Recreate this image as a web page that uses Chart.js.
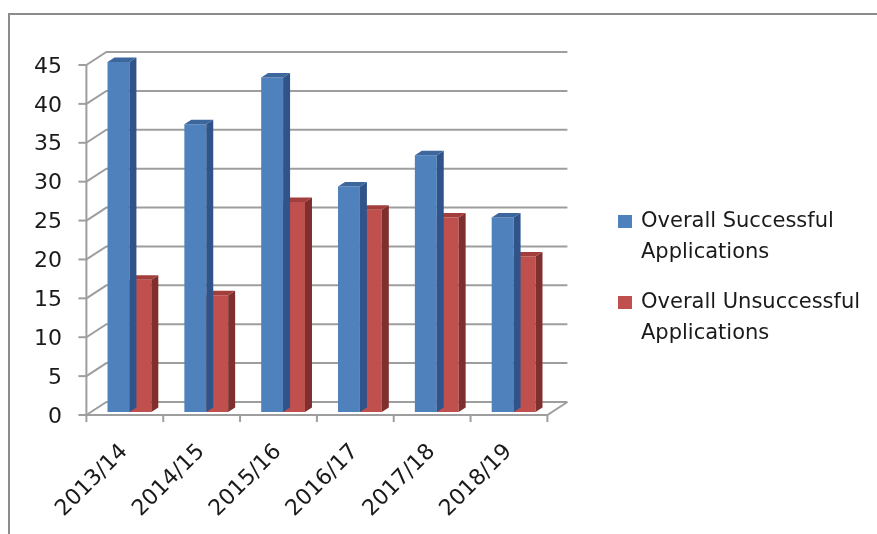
<!DOCTYPE html>
<html>
<head>
<meta charset="utf-8">
<script src="https://cdn.jsdelivr.net/npm/chart.js@4.4.0/dist/chart.umd.min.js"></script>
<style>
  html, body { margin: 0; padding: 0; background: #fff; overflow: hidden; }
  #wrap { position: relative; width: 877px; height: 534px; }
  #frame { position: absolute; left: 8px; top: 13px; width: 900px; height: 560px; border: 2px solid #8c8c8c; }
  #myChart { position: absolute; left: 0; top: 0; }
  #legend { position: absolute; left: 618px; top: 205px; font-family: "DejaVu Sans", sans-serif; font-size: 21px; color: #1a1a1a; }
  .item { position: relative; padding-left: 23px; width: 240px; line-height: 31px; margin-bottom: 19px; }
  .box { position: absolute; left: 0; top: 10px; width: 14px; height: 13px; }
</style>
</head>
<body>
<div id="wrap">
  <div id="frame"></div>
  <canvas id="myChart" width="877" height="534"></canvas>
  <div id="legend"></div>
</div>
<script>
const categories = ['2013/14', '2014/15', '2015/16', '2016/17', '2017/18', '2018/19'];
const successful = [45, 37, 43, 29, 33, 25];
const unsuccessful = [17, 15, 27, 26, 25, 20];
const seriesNames = ['Overall Successful Applications', 'Overall Unsuccessful Applications'];
const yTicks = [0, 5, 10, 15, 20, 25, 30, 35, 40, 45];

// colours: front, top, side
const blue = ['#4f81bd', '#3c669c', '#30548a'];
const red = ['#c0504d', '#a23f3c', '#7f2f2d'];

// depth of the box, bar plane sits a bit behind the front
const front = { dx: -4.6, dy: 3 };
const back = { dx: 15.4, dy: -10 };
const barDepth = { dx: 7, dy: 4.5 };
const gridColor = '#9e9e9e';

const ctx = document.getElementById('myChart');

// walls, gridlines, floor
const wallPlugin = {
    id: 'walls',
    beforeDatasetsDraw(chart) {
        const c = chart.ctx;
        const area = chart.chartArea;
        const y = chart.scales.y;
        c.save();
        c.strokeStyle = gridColor;
        c.lineWidth = 2;
        c.lineCap = 'butt';
        const fl = area.left + front.dx;
        const fr = area.right + front.dx;
        const bl = area.left + back.dx;
        const br = area.right + back.dx;
        yTicks.forEach((v) => {
            const py = y.getPixelForValue(v);
            c.beginPath();
            // left wall diagonal
            c.moveTo(fl, py + front.dy);
            c.lineTo(bl, py + back.dy);
            // back wall line
            c.lineTo(br, py + back.dy);
            c.stroke();
            // tick mark on the front axis
            c.beginPath();
            c.moveTo(fl - 8, py + front.dy);
            c.lineTo(fl, py + front.dy);
            c.stroke();
        });
        const top = y.getPixelForValue(45);
        const bottom = y.getPixelForValue(0);
        c.beginPath();
        c.moveTo(fl, top + front.dy);
        c.lineTo(fl, bottom + front.dy);
        c.lineTo(fr, bottom + front.dy);
        c.lineTo(br, bottom + back.dy);
        c.stroke();
        // category ticks on the floor edge
        const step = (area.right - area.left) / categories.length;
        for (let i = 0; i <= categories.length; i++) {
            const px = fl + step * i;
            c.beginPath();
            c.moveTo(px, bottom + front.dy);
            c.lineTo(px, bottom + front.dy + 7);
            c.stroke();
        }
        c.restore();
    },
    afterDatasetDraw(chart, args) {
        const c = chart.ctx;
        const cols = args.index === 0 ? blue : red;
        c.save();
        args.meta.data.forEach((bar) => {
            const p = bar.getProps(['x', 'y', 'base', 'width'], true);
            const l = p.x - p.width / 2;
            const r = p.x + p.width / 2;
            const t = p.y;
            const b = p.base;
            // side
            c.fillStyle = cols[2];
            c.beginPath();
            c.moveTo(r, t);
            c.lineTo(r + barDepth.dx, t - barDepth.dy);
            c.lineTo(r + barDepth.dx, b - barDepth.dy);
            c.lineTo(r, b);
            c.closePath();
            c.fill();
            // top
            c.fillStyle = cols[1];
            c.beginPath();
            c.moveTo(l, t);
            c.lineTo(l + barDepth.dx, t - barDepth.dy);
            c.lineTo(r + barDepth.dx, t - barDepth.dy);
            c.lineTo(r, t);
            c.closePath();
            c.fill();
        });
        c.restore();
    }
};

new Chart(ctx, {
    type: 'bar',
    data: {
        labels: categories,
        datasets: [{
            label: seriesNames[0],
            data: successful,
            backgroundColor: blue[0],
            borderWidth: 0
        }, {
            label: seriesNames[1],
            data: unsuccessful,
            backgroundColor: red[0],
            borderWidth: 0
        }]
    },
    options: {
        responsive: false,
        animation: false,
        layout: { padding: { left: 0, top: 62, right: 325, bottom: 0 } },
        categoryPercentage: 0.57,
        barPercentage: 1,
        plugins: {
            legend: { display: false },
            tooltip: { enabled: false }
        },
        scales: {
            x: {
                grid: { display: false, drawTicks: false },
                border: { display: false },
                ticks: {
                    color: '#1a1a1a',
                    font: { family: 'DejaVu Sans', size: 22 },
                    minRotation: 45,
                    maxRotation: 45,
                    padding: 27,
                    labelOffset: -5
                },
                afterFit(scale) { scale.height = 122; }
            },
            y: {
                min: 0,
                max: 45,
                grid: { display: false, drawTicks: false },
                border: { display: false },
                ticks: {
                    stepSize: 5,
                    color: '#1a1a1a',
                    font: { family: 'DejaVu Sans', size: 22 },
                    padding: 29,
                    labelOffset: 5
                },
                afterFit(scale) { scale.width = 91; }
            }
        }
    },
    plugins: [wallPlugin]
});

// legend
const legend = document.getElementById('legend');
[blue[0], red[0]].forEach((col, i) => {
    const item = document.createElement('div');
    item.className = 'item';
    const box = document.createElement('span');
    box.className = 'box';
    box.style.background = col;
    item.appendChild(box);
    item.appendChild(document.createTextNode(seriesNames[i]));
    legend.appendChild(item);
});
</script>
</body>
</html>
